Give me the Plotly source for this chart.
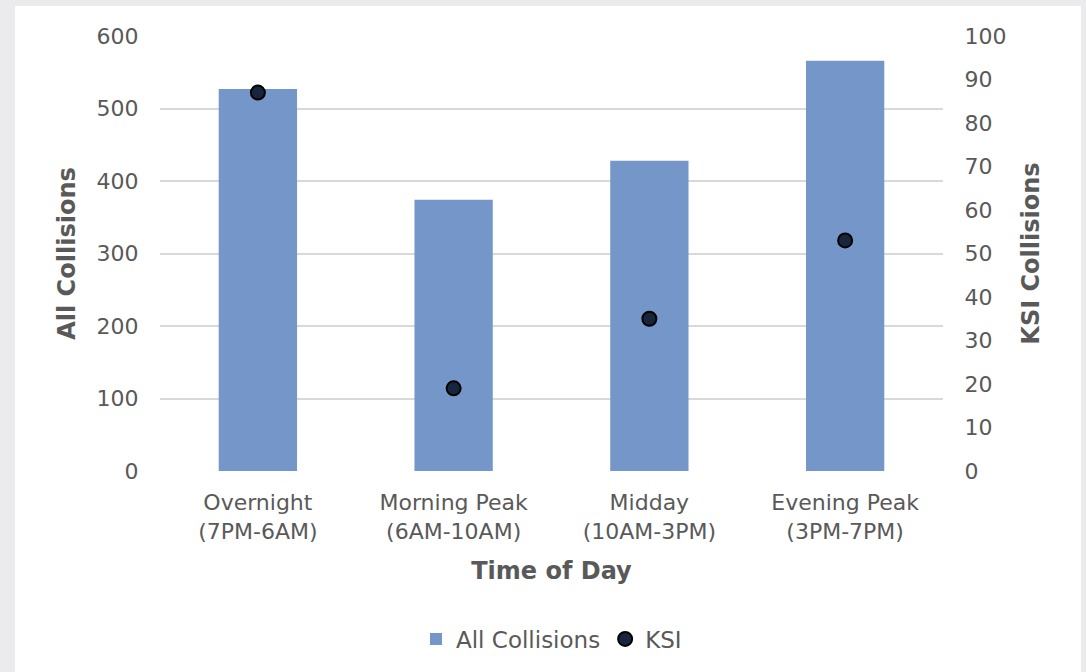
import plotly.graph_objects as go

# Collisions by time of day
categories = ["Overnight<br>(7PM-6AM)", "Morning Peak<br>(6AM-10AM)",
              "Midday<br>(10AM-3PM)", "Evening Peak<br>(3PM-7PM)"]
all_collisions = [527, 374, 428, 566]
ksi_collisions = [87, 19, 35, 53]

left_ticks = [0, 100, 200, 300, 400, 500, 600]
right_ticks = [0, 10, 20, 30, 40, 50, 60, 70, 80, 90, 100]

W, H = 1086, 672
ML, MR, MT, MB = 160, 143, 36, 201
PW, PH = W - ML - MR, H - MT - MB

FONT = "DejaVu Sans"
GREY = "#595959"

fig = go.Figure()
fig.add_trace(go.Bar(
    x=categories, y=all_collisions, name="All Collisions",
    marker=dict(color="#7596C8", line=dict(width=0)),
    yaxis="y",
))
fig.add_trace(go.Scatter(
    x=categories, y=ksi_collisions, name="KSI", mode="markers",
    marker=dict(color="#17263D", size=14, line=dict(color="#000000", width=2)),
    yaxis="y2",
))

# white card on grey frame
def px_x(p):
    return (p - ML) / PW

def px_y(p):
    return (H - MB - p) / PH

fig.add_shape(type="rect", xref="paper", yref="paper",
              x0=px_x(15), x1=px_x(1081), y0=px_y(672), y1=px_y(6),
              fillcolor="white", line=dict(width=0), layer="below")

fig.update_layout(
    width=W, height=H,
    margin=dict(l=ML, r=MR, t=MT, b=MB, pad=0),
    paper_bgcolor="#EBEBED",
    plot_bgcolor="white",
    font=dict(family=FONT, color=GREY, size=22),
    bargap=0.6,
    showlegend=True,
    legend=dict(orientation="h", x=0.5, xanchor="center", y=px_y(639),
                yanchor="middle", font=dict(size=23, color=GREY),
                itemwidth=30, bgcolor="rgba(0,0,0,0)"),
    xaxis=dict(
        tickfont=dict(size=22, color=GREY),
        ticks="outside", ticklen=12, tickcolor="rgba(0,0,0,0)",
        showgrid=False, showline=False, zeroline=False,
        title=dict(text="<b>Time of Day</b>", font=dict(size=24, color=GREY),
                   standoff=19),
    ),
    yaxis=dict(
        range=[0, 600], tickvals=left_ticks,
        tickfont=dict(size=22, color=GREY),
        ticks="outside", ticklen=16, tickcolor="rgba(0,0,0,0)",
        showgrid=True, gridcolor="#D9D9D9", gridwidth=2,
        zeroline=False, showline=False,
        title=dict(text="<b>All Collisions</b>", font=dict(size=24, color=GREY),
                   standoff=14),
    ),
    yaxis2=dict(
        range=[0, 100], tickvals=right_ticks, overlaying="y", side="right",
        tickfont=dict(size=22, color=GREY),
        ticks="outside", ticklen=16, tickcolor="rgba(0,0,0,0)",
        showgrid=False, zeroline=False, showline=False,
        title=dict(text="<b>KSI Collisions</b>", font=dict(size=24, color=GREY),
                   standoff=16),
    ),
)

fig.write_html("out.html")
